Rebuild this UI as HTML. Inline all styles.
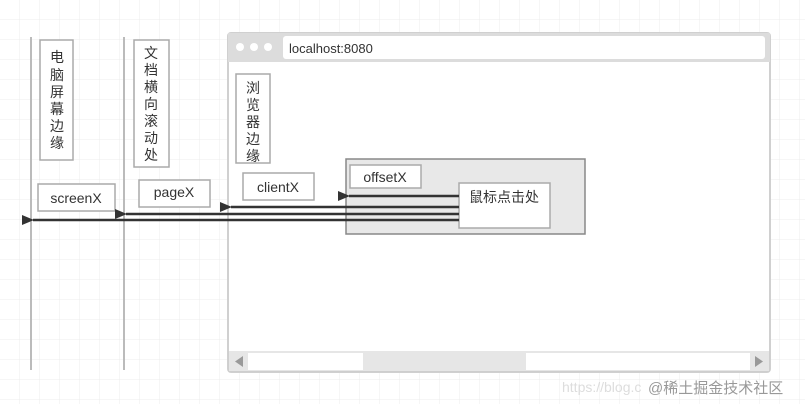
<html><head><style>body{margin:0}svg{display:block}text{font-family:"Liberation Sans","Noto Sans CJK SC",sans-serif;fill:#333}</style></head><body>
<svg width="805" height="404" xmlns="http://www.w3.org/2000/svg">
<defs><pattern id="g" width="20" height="20" patternUnits="userSpaceOnUse"><path d="M20 0V20H0" fill="none" stroke="#ececec" stroke-width="1"/></pattern>
<marker id="a" markerWidth="12" markerHeight="10" refX="1" refY="5" orient="auto" markerUnits="userSpaceOnUse"><path d="M12 0L0 5L12 10z" fill="#333"/></marker></defs>
<rect width="805" height="404" fill="#fff"/><rect width="805" height="404" fill="url(#g)"/>
<line x1="31" y1="37" x2="31" y2="370" stroke="#bbb" stroke-width="2"/>
<line x1="124" y1="37" x2="124" y2="370" stroke="#bbb" stroke-width="2"/>
<rect x="228" y="33" width="542" height="339" rx="3" fill="#fff" stroke="#d0d0d0" stroke-width="2"/>
<rect x="228" y="33" width="542" height="29" fill="#dcdcdc"/>
<circle cx="240" cy="47" r="4" fill="#fff"/><circle cx="254" cy="47" r="4" fill="#fff"/><circle cx="268" cy="47" r="4" fill="#fff"/>
<rect x="283" y="36" width="482" height="23" rx="3" fill="#fff"/>
<text x="289" y="53" font-size="13">localhost:8080</text>
<rect x="229" y="352" width="540" height="19" fill="#fff" stroke="#ccc"/>
<rect x="229" y="352" width="19" height="19" fill="#e6e6e6"/><path d="M243 356L235 361.5L243 367z" fill="#999"/>
<rect x="750" y="352" width="19" height="19" fill="#e6e6e6"/><path d="M755 356L763 361.5L755 367z" fill="#999"/>
<rect x="363" y="353" width="163" height="18" fill="#e6e6e6"/>
<g fill="#fff" stroke="#aaa" stroke-width="1.5">
<rect x="40" y="40" width="33" height="120"/><rect x="134" y="40" width="35" height="127"/><rect x="236" y="74" width="34" height="89"/>
<rect x="38" y="184" width="77" height="27"/><rect x="139" y="180" width="71" height="27"/><rect x="243" y="173" width="71" height="27"/>
</g>
<rect x="346" y="159" width="239" height="75" fill="#e8e8e8" stroke="#888" stroke-width="1.5"/>
<rect x="350" y="165" width="71" height="23" fill="#fff" stroke="#aaa" stroke-width="1.5"/>
<rect x="459" y="183" width="91" height="45" fill="#fff" stroke="#aaa" stroke-width="1.5"/>
<g font-size="14" text-anchor="middle">
<text x="57" y="62">电</text><text x="57" y="80">脑</text><text x="57" y="97">屏</text><text x="57" y="114">幕</text><text x="57" y="131">边</text><text x="57" y="148">缘</text>
<text x="151" y="58">文</text><text x="151" y="75">档</text><text x="151" y="92">横</text><text x="151" y="109">向</text><text x="151" y="126">滚</text><text x="151" y="143">动</text><text x="151" y="160">处</text>
<text x="253" y="93">浏</text><text x="253" y="110">览</text><text x="253" y="127">器</text><text x="253" y="144">边</text><text x="253" y="161">缘</text>
<text x="76" y="203">screenX</text><text x="174" y="197">pageX</text><text x="278" y="192">clientX</text><text x="385" y="182">offsetX</text><text x="504" y="202">鼠标点击处</text>
</g>
<g stroke="#333" stroke-width="2.5" marker-end="url(#a)">
<line x1="459" y1="196" x2="349" y2="196"/><line x1="459" y1="207" x2="231" y2="207"/>
<line x1="459" y1="214" x2="126" y2="214"/><line x1="459" y1="220" x2="33" y2="220"/>
</g>
<text x="562" y="392" font-size="14" fill="#ddd" style="fill:#ddd">https://blog.c</text>
<text x="648" y="393" font-size="15" style="fill:#999">@稀土掘金技术社区</text>
</svg></body></html>
